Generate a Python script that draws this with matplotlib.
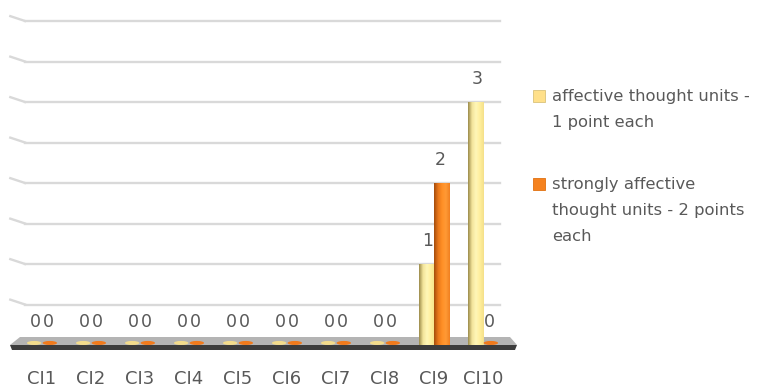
import matplotlib.pyplot as plt
import numpy as np
from matplotlib.patches import Rectangle, Polygon, Ellipse
from matplotlib.colors import LinearSegmentedColormap

categories = ["CI1", "CI2", "CI3", "CI4", "CI5", "CI6", "CI7", "CI8", "CI9", "CI10"]
affective = [0, 0, 0, 0, 0, 0, 0, 0, 1, 3]
strongly = [0, 0, 0, 0, 0, 0, 0, 0, 2, 0]
series_names = ["affective thought units -\n1 point each",
                "strongly affective\nthought units - 2 points\neach"]

plt.rcParams['font.family'] = ['DejaVu Sans']
txt = "#595959"
W, H = 780, 389

fig = plt.figure(figsize=(7.8, 3.89), dpi=100)
ax = fig.add_axes([25 / W, 44 / H, 475 / W, 324 / H])

x = np.arange(len(categories))
bw = 0.31
off = 0.16
x0, x1 = -0.347, 9.347

yellow_cm = LinearSegmentedColormap.from_list("y", ["#9c8c4c", "#f3e49a", "#fff7b8", "#ffef9c", "#f5e08a"])
orange_cm = LinearSegmentedColormap.from_list("o", ["#a44c0c", "#e7761a", "#ff8f25", "#ff9a35", "#f08020"])
grad = np.linspace(0, 1, 64).reshape(1, -1)

def draw_series(vals, dx, cmap, flat):
    for xi, v in zip(x, vals):
        if v > 0:
            r = Rectangle((xi + dx - bw / 2, 0), bw, v, facecolor="none", edgecolor="none")
            ax.add_patch(r)
            im = ax.imshow(grad, cmap=cmap, aspect="auto",
                           extent=(xi + dx - bw / 2, xi + dx + bw / 2, 0, v), zorder=3)
            im.set_clip_path(r)
        else:
            ax.add_patch(Ellipse((xi + dx, 0.025), bw * 0.95, 0.05, facecolor=flat,
                                 edgecolor="none", zorder=3, clip_on=False))
        ax.text(xi + dx * 0.8, v + 0.28, str(v), ha="center", va="center",
                fontsize=12.5, color=txt, zorder=4)

draw_series(affective, -off, yellow_cm, "#f3dc8c")
draw_series(strongly, off, orange_cm, "#f07a1c")
ax.set_xlim(x0, x1)
ax.set_ylim(0, 4)

# gridlines with little perspective tails
for gy in np.arange(0.5, 4.01, 0.5):
    ax.plot([x0, x1], [gy, gy], color="#d9d9d9", lw=1.7, zorder=1, clip_on=False)
    ax.plot([x0 - 0.3, x0], [gy + 0.06, gy], color="#d9d9d9", lw=1.7, zorder=1, clip_on=False)

# floor plate
def fp(px, py):
    return (px / W, 1 - py / H)
fig.add_artist(Polygon([fp(20, 337), fp(510, 337), fp(517, 345), fp(10, 345)],
                       closed=True, facecolor="#b4b4b4", edgecolor="none", zorder=0,
                       transform=fig.transFigure))
fig.add_artist(Polygon([fp(10, 345), fp(517, 345), fp(515, 350), fp(12, 350)],
                       closed=True, facecolor="#3c3c3c", edgecolor="none", zorder=0,
                       transform=fig.transFigure))

ax.set_xticks(x)
ax.set_xticklabels(categories, fontsize=13, color=txt)
ax.tick_params(axis="x", length=0, pad=18)
ax.set_yticks([])
for s in ax.spines.values():
    s.set_visible(False)
ax.patch.set_alpha(0)

# legend
leg_colors = ["#ffe08a", "#f5821f"]
leg_y = [96, 184]
for name, c, ly in zip(series_names, leg_colors, leg_y):
    fig.add_artist(Rectangle((533 / W, 1 - (ly + 6) / H), 12 / W, 12 / H,
                             facecolor=c, edgecolor="#d9c27a" if c == "#ffe08a" else "#e07010",
                             lw=0.6, transform=fig.transFigure))
    fig.text(552 / W, 1 - (ly - 7.5) / H, name, fontsize=11.8, color=txt, va="top",
             ha="left", linespacing=1.92)

fig.savefig("out.png", dpi=100)
